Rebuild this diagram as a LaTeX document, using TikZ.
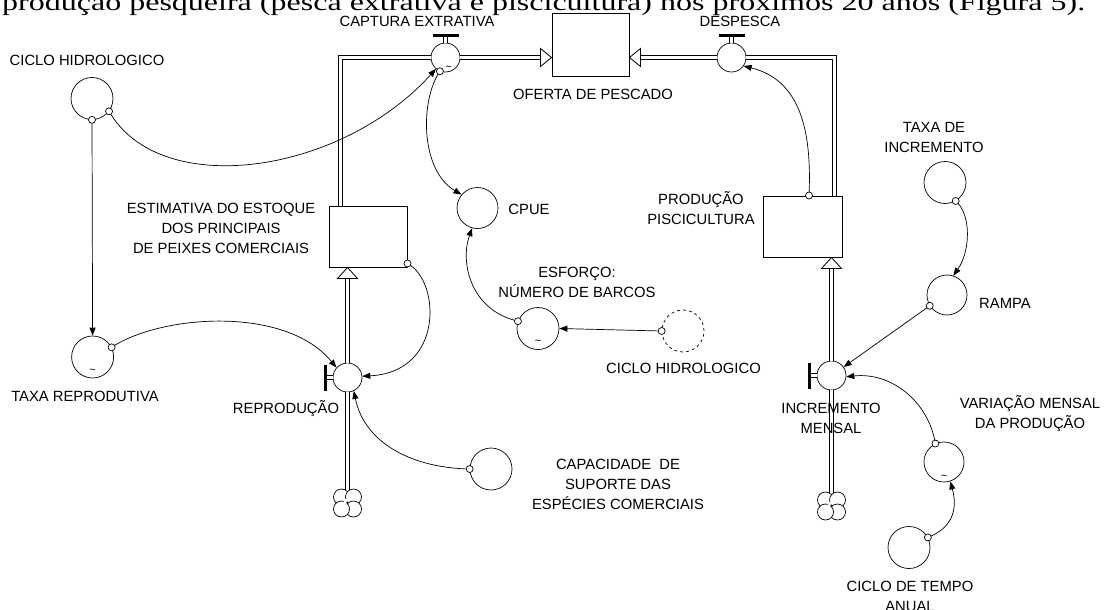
\documentclass[tikz,border=0pt]{standalone}
\usepackage{graphicx}
\usepackage{fontspec}
\setmainfont{Liberation Sans}
\newfontfamily\serifdoc{Liberation Serif}
\usetikzlibrary{arrows.meta}
\begin{document}
\begin{tikzpicture}[x=1pt,y=-1pt,
  every node/.style={inner sep=0pt},
  lab/.style={font=\fontsize{14.8pt}{20pt}\selectfont, text height=10.6pt, text depth=0pt},
  mlab/.style={font=\fontsize{14.8pt}{20pt}\selectfont, align=center},
  aux/.style={circle, draw, line width=0.7pt, minimum size=42pt, fill=white},
  valve/.style={circle, draw, line width=0.7pt, minimum size=29pt, fill=white},
  stock/.style={rectangle, draw, line width=1pt, fill=white},
  pipe/.style={draw, line width=1pt, double=white, double distance=3pt},
  head/.style={draw, line width=0.8pt, fill=white, line join=miter},
  conn/.style={draw, line width=0.7pt, -{Triangle[length=8pt,width=6pt]}},
  orig/.style={circle, draw, line width=0.7pt, fill=white, minimum size=7pt},
  sinkc/.style={circle, minimum size=28pt},
  lobe/.style={draw, line width=0.7pt, fill=white},
  bar/.style={line width=3pt},
  tilde/.style={font=\fontsize{11pt}{11pt}\selectfont},
]
\fill[white] (0,0) rectangle (1105,610);
\useasboundingbox (0,0) rectangle (1105,610);

% cut-off line of the surrounding text
\node[anchor=base west, font=\serifdoc\fontsize{32pt}{32pt}\selectfont] (topline) at (2,10.5)
  {\scalebox{1}[0.75]{\makebox[1083pt][s]{produção pesqueira (pesca extrativa e piscicultura) nos próximos 20 anos (Figura 5).}}};

% ---- nodes
\node[aux] (ch1) at (92,98.5) {};
\node[valve] (cap) at (445.5,57.5) {};
\node[stock, minimum width=77pt, minimum height=62pt] (oferta) at (590.5,45) {};
\node[valve] (desp) at (731.5,57.5) {};
\node[stock, minimum width=78pt, minimum height=61pt] (est) at (368,236.5) {};
\node[aux, minimum size=41pt] (cpue) at (477.5,208) {};
\node[stock, minimum width=79pt, minimum height=61pt] (prod) at (802.5,226.5) {};
\node[aux] (ti) at (945,182.5) {};
\node[aux] (esf) at (538,328.5) {};
\node[aux, dash pattern=on 3pt off 3pt] (ch2) at (683,331) {};
\node[aux, minimum size=40pt] (ramp) at (947,295) {};
\node[aux] (tr) at (92.6,357) {};
\node[valve] (rep) at (347.5,377.5) {};
\node[valve] (inc) at (831.5,375.5) {};
\node[aux, minimum size=40pt] (var) at (944,462) {};
\node[aux] (capac) at (491,469) {};
\node[aux] (ct) at (909,547.5) {};
\node[sinkc] (cl1) at (347.5,503) {};
\node[sinkc] (cl2) at (831.5,506) {};

% clouds (sources)
\foreach \c in {cl1,cl2}{
  \draw[lobe] ([shift={(-6pt,6pt)}]\c.center) circle[radius=8pt];
  \draw[lobe] ([shift={(6pt,6pt)}]\c.center) circle[radius=8pt];
  \draw[lobe] ([shift={(6pt,-6pt)}]\c.center) circle[radius=8pt];
  \draw[lobe] ([shift={(-6pt,-6pt)}]\c.center) circle[radius=8pt];
  \fill[white] ([shift={(-5pt,5pt)}]\c.center) -- ([shift={(1pt,3pt)}]\c.center) -- ([shift={(-3pt,-1pt)}]\c.center) -- cycle;
}

% tildes
\node[tilde] (t1) at ([yshift=-14pt]tr.center) {\textasciitilde};
\node[tilde] (t2) at ([shift={(3pt,-11pt)}]cap.center) {\textasciitilde};
\node[tilde] (t3) at ([yshift=-14pt]esf.center) {\textasciitilde};
\node[tilde] (t4) at ([yshift=-15pt]var.center) {\textasciitilde};

% ---- pipes
\draw[pipe] ([xshift=-27.5pt]est.north) |- (cap.west);
\coordinate (pB) at (oferta.west |- cap.east);
\draw[pipe] (cap.east) -- ([xshift=-11pt]pB);
\draw[head] (pB) -- ++(-11,-9) -- ++(0,18) -- cycle;
\coordinate (pC) at (oferta.east |- desp.west);
\draw[pipe] (desp.west) -- ([xshift=11pt]pC);
\draw[head] (pC) -- ++(11,-9) -- ++(0,18) -- cycle;
\draw[pipe] ([xshift=32pt]prod.north) |- (desp.east);
\draw[pipe] ([yshift=-1pt]cl1.north) -- (rep.south);
\coordinate (pE) at (rep.north |- est.south);
\draw[pipe] (rep.north) -- ([yshift=-11pt]pE);
\draw[head] (pE) -- ++(-10,11) -- ++(20,0) -- cycle;
\draw[pipe] ([yshift=-1pt]cl2.north) -- (inc.south);
\coordinate (pF) at (inc.north |- prod.south);
\draw[pipe] (inc.north) -- ([yshift=-11pt]pF);
\draw[head] (pF) -- ++(-10,11) -- ++(20,0) -- cycle;

% valve handles
\draw[pipe] (cap.north) -- ++(0,-7) coordinate (capbar);
\draw[bar] ([xshift=-13pt]capbar) -- ([xshift=13pt]capbar);
\draw[pipe] (desp.north) -- ++(0,-7) coordinate (despbar);
\draw[bar] ([xshift=-13pt]despbar) -- ([xshift=13pt]despbar);
\draw[pipe] (rep.west) -- ++(-7,0) coordinate (repbar);
\draw[bar] ([yshift=13pt]repbar) -- ([yshift=-13pt]repbar);
\draw[pipe] (inc.west) -- ++(-7,0) coordinate (incbar);
\draw[bar] ([yshift=13pt]incbar) -- ([yshift=-13pt]incbar);

% ---- connectors
\draw[conn] (ch1.south) node[orig]{} -- (tr.north);
\draw[conn] (ch1.-37) node[orig]{} .. controls (160,200) and (340,175) .. (cap.-130);
\draw[conn] (tr.27) node[orig]{} .. controls (160,315) and (285,305) .. (rep.138);
\draw[conn] ([yshift=4pt]est.south east) node[orig]{} .. controls (440,280) and (445,372) .. (rep.5);
\draw[conn] (capac.west) node[orig]{} .. controls (415,468) and (365,445) .. (rep.-65);
\draw[conn] (cap.-112) node[orig]{} .. controls (420,100) and (420,170) .. (cpue.140);
\draw[conn] (esf.160) node[orig]{} .. controls (470,310) and (460,262) .. (cpue.-105);
\draw[conn] (ch2.west) node[orig]{} -- (esf.east);
\draw[conn] ([xshift=6.5pt]prod.north) node[orig]{} .. controls (812,130) and (800,80) .. (desp.-35);
\draw[conn] (ti.-60) node[orig]{} .. controls (972,215) and (970,252) .. (ramp.72);
\draw[conn] (ramp.212) node[orig]{} -- (inc.35);
\draw[conn] (var.115) node[orig]{} .. controls (928,400) and (890,372) .. (inc.-5);
\draw[conn] (ct.28) node[orig]{} .. controls (952,528) and (958,510) .. (var.-72);

% ---- labels
\node[lab] (lch1) at (87,60) {CICLO HIDROLOGICO};
\node[lab] (lcap) at (417,21.5) {CAPTURA EXTRATIVA};
\node[lab] (ldesp) at (740,21.5) {DESPESCA};
\node[lab] (lof) at (593,94) {OFERTA DE PESCADO};
\node[mlab] (lest) at (221,228.5) {ESTIMATIVA DO ESTOQUE\\DOS PRINCIPAIS\\DE PEIXES COMERCIAIS};
\node[lab] (lcpue) at (529,209) {CPUE};
\node[mlab] (lprod) at (701,208.5) {PRODUÇÃO\\PISCICULTURA};
\node[mlab] (lti) at (934,137) {TAXA DE\\INCREMENTO};
\node[mlab] (lesf) at (577,282) {ESFORÇO:\\NÚMERO DE BARCOS};
\node[lab] (lramp) at (1005,303) {RAMPA};
\node[lab] (ltr) at (85,396) {TAXA REPRODUTIVA};
\node[lab] (lrep) at (286,408) {REPRODUÇÃO};
\node[lab] (lch2) at (683.5,368) {CICLO HIDROLOGICO};
\node[mlab] (linc) at (831,418.5) {INCREMENTO\\MENSAL};
\node[mlab] (lvar) at (1030,414) {VARIAÇÃO MENSAL\\DA PRODUÇÃO};
\node[mlab] (lcapac) at (618,484.5) {CAPACIDADE\ \ DE\\SUPORTE DAS\\ESPÉCIES COMERCIAIS};
\node[mlab] (lct) at (910,596) {CICLO DE TEMPO\\ANUAL};
\end{tikzpicture}
\end{document}
